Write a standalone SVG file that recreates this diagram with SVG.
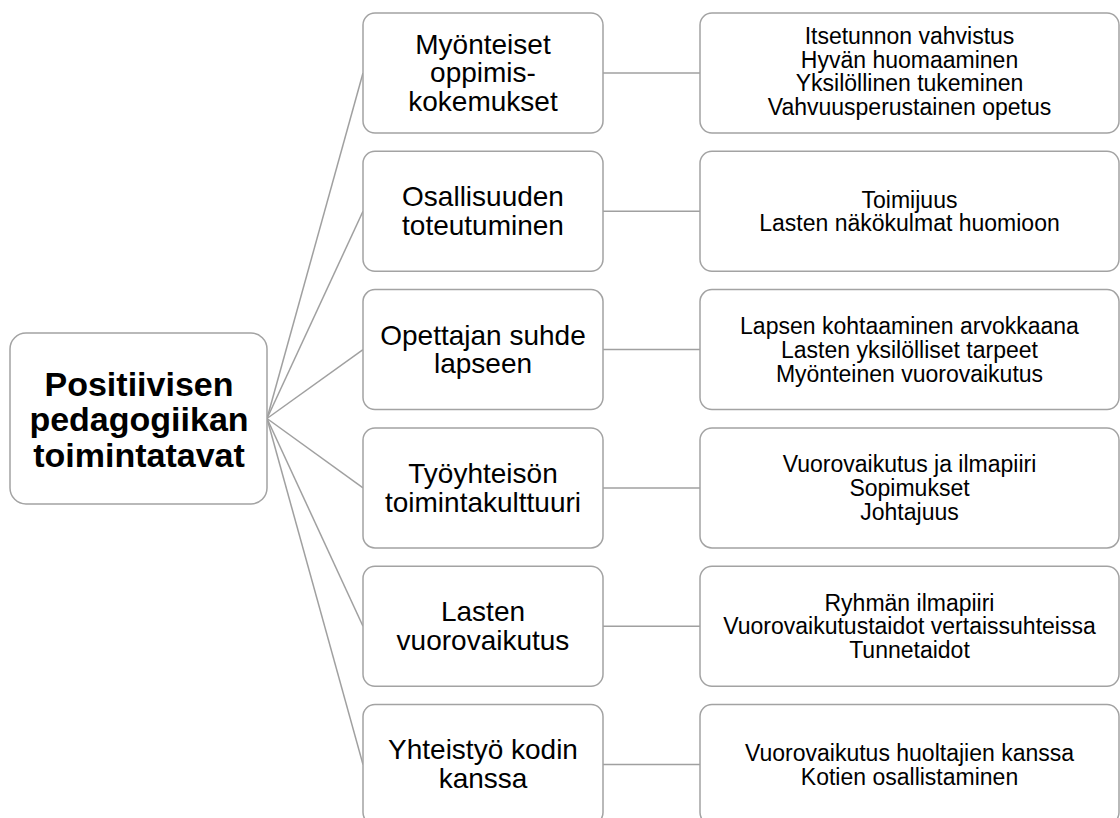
<svg xmlns="http://www.w3.org/2000/svg" width="1120" height="818" viewBox="0 0 1120 818">
<style>
.box{fill:#ffffff;stroke:#a3a3a3;stroke-width:1.5}
.ln{stroke:#a0a0a0;stroke-width:1.5;fill:none}
.root{font-family:"Liberation Sans",Arial,sans-serif;font-weight:bold;font-size:34px;fill:#000;text-anchor:middle}
.mid{font-family:"Liberation Sans",Arial,sans-serif;font-size:28px;fill:#000;text-anchor:middle}
.rt{font-family:"Liberation Sans",Arial,sans-serif;font-size:23px;fill:#000;text-anchor:middle}
</style>
<rect width="1120" height="818" fill="#ffffff"/>
<g id="connectors">
<line class="ln" x1="267" y1="418.5" x2="363" y2="73"/>
<line class="ln" x1="267" y1="418.5" x2="363" y2="211.3"/>
<line class="ln" x1="267" y1="418.5" x2="363" y2="349.6"/>
<line class="ln" x1="267" y1="418.5" x2="363" y2="487.9"/>
<line class="ln" x1="267" y1="418.5" x2="363" y2="626.2"/>
<line class="ln" x1="267" y1="418.5" x2="363" y2="764.5"/>
<line class="ln" x1="603" y1="73" x2="700" y2="73"/>
<line class="ln" x1="603" y1="211.3" x2="700" y2="211.3"/>
<line class="ln" x1="603" y1="349.6" x2="700" y2="349.6"/>
<line class="ln" x1="603" y1="487.9" x2="700" y2="487.9"/>
<line class="ln" x1="603" y1="626.2" x2="700" y2="626.2"/>
<line class="ln" x1="603" y1="764.5" x2="700" y2="764.5"/>
</g>
<g id="root">
<rect class="box" x="10" y="333" width="257" height="171" rx="16"/>
<text class="root" x="139" y="395.5">Positiivisen</text>
<text class="root" x="139" y="431">pedagogiikan</text>
<text class="root" x="139" y="466.5">toimintatavat</text>
</g>
<g id="m1">
<rect class="box" x="363" y="13" width="240" height="120" rx="12"/>
<text class="mid" x="483" y="54">Myönteiset</text>
<text class="mid" x="483" y="82">oppimis-</text>
<text class="mid" x="483" y="110.5">kokemukset</text>
</g>
<g id="m2">
<rect class="box" x="363" y="151.3" width="240" height="120" rx="12"/>
<text class="mid" x="483" y="206.3">Osallisuuden</text>
<text class="mid" x="483" y="235">toteutuminen</text>
</g>
<g id="m3">
<rect class="box" x="363" y="289.6" width="240" height="120" rx="12"/>
<text class="mid" x="483" y="344.5">Opettajan suhde</text>
<text class="mid" x="483" y="373.2">lapseen</text>
</g>
<g id="m4">
<rect class="box" x="363" y="427.9" width="240" height="120" rx="12"/>
<text class="mid" x="483" y="482.8">Työyhteisön</text>
<text class="mid" x="483" y="511.5">toimintakulttuuri</text>
</g>
<g id="m5">
<rect class="box" x="363" y="566.2" width="240" height="120" rx="12"/>
<text class="mid" x="483" y="621.1">Lasten</text>
<text class="mid" x="483" y="649.8">vuorovaikutus</text>
</g>
<g id="m6">
<rect class="box" x="363" y="704.5" width="240" height="120" rx="12"/>
<text class="mid" x="483" y="759.4">Yhteistyö kodin</text>
<text class="mid" x="483" y="788.1">kanssa</text>
</g>
<g id="r1">
<rect class="box" x="700" y="13" width="419" height="120" rx="12"/>
<text class="rt" x="909.5" y="44">Itsetunnon vahvistus</text>
<text class="rt" x="909.5" y="67.7">Hyvän huomaaminen</text>
<text class="rt" x="909.5" y="91.4">Yksilöllinen tukeminen</text>
<text class="rt" x="909.5" y="115.1">Vahvuusperustainen opetus</text>
</g>
<g id="r2">
<rect class="box" x="700" y="151.3" width="419" height="120" rx="12"/>
<text class="rt" x="909.5" y="207.6">Toimijuus</text>
<text class="rt" x="909.5" y="231.3">Lasten näkökulmat huomioon</text>
</g>
<g id="r3">
<rect class="box" x="700" y="289.6" width="419" height="120" rx="12"/>
<text class="rt" x="909.5" y="334.1">Lapsen kohtaaminen arvokkaana</text>
<text class="rt" x="909.5" y="357.8">Lasten yksilölliset tarpeet</text>
<text class="rt" x="909.5" y="381.5">Myönteinen vuorovaikutus</text>
</g>
<g id="r4">
<rect class="box" x="700" y="427.9" width="419" height="120" rx="12"/>
<text class="rt" x="909.5" y="472.4">Vuorovaikutus ja ilmapiiri</text>
<text class="rt" x="909.5" y="496.1">Sopimukset</text>
<text class="rt" x="909.5" y="519.8">Johtajuus</text>
</g>
<g id="r5">
<rect class="box" x="700" y="566.2" width="419" height="120" rx="12"/>
<text class="rt" x="909.5" y="610.7">Ryhmän ilmapiiri</text>
<text class="rt" x="909.5" y="634.4">Vuorovaikutustaidot vertaissuhteissa</text>
<text class="rt" x="909.5" y="658.1">Tunnetaidot</text>
</g>
<g id="r6">
<rect class="box" x="700" y="704.5" width="419" height="120" rx="12"/>
<text class="rt" x="909.5" y="760.8">Vuorovaikutus huoltajien kanssa</text>
<text class="rt" x="909.5" y="784.5">Kotien osallistaminen</text>
</g>
</svg>
